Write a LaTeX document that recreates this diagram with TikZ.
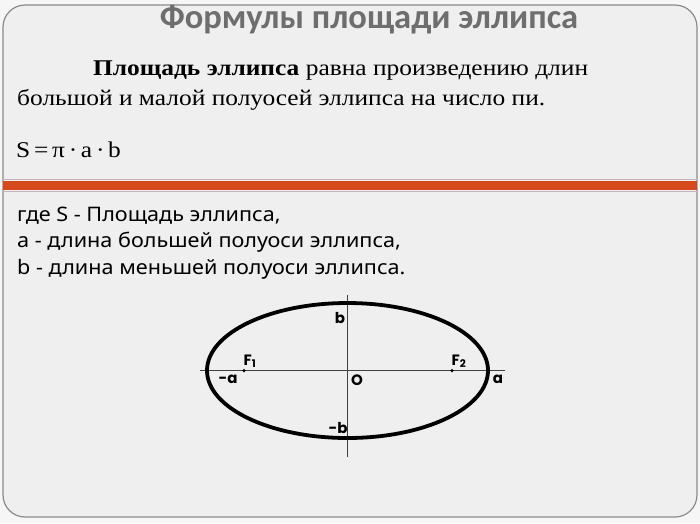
\documentclass[tikz,border=0pt]{standalone}
\usepackage{fontspec}
\setmainfont[FakeStretch=1.13]{Liberation Serif}
\newfontfamily\titlefont{Carlito}
\newfontfamily\notefont[FakeStretch=1.08]{Noto Sans}
\newfontfamily\axisfont{Poppins}
\usepackage{tikz}
\usetikzlibrary{positioning}

\definecolor{pagebg}{HTML}{F6F6F6}
\definecolor{slidebg}{HTML}{EFEFEF}
\definecolor{framegray}{HTML}{8A8A8A}
\definecolor{titlegray}{HTML}{6E6E6E}
\definecolor{bandorange}{HTML}{D5491C}
\definecolor{bandedge}{HTML}{C4B6C0}

\begin{document}
\begin{tikzpicture}[
        % Define styles for consistency
        x=1pt, y=-1pt,
        frame/.style={draw=framegray, line width=1.2pt, rounded corners=22pt, fill=slidebg},
        body/.style={anchor=base west, inner sep=0pt, font=\fontsize{22.5}{27}\selectfont},
        note/.style={anchor=base west, inner sep=0pt, font=\notefont\fontsize{20}{24}\selectfont},
        axis/.style={draw=black!75, line width=0.8pt},
        curve/.style={draw=black, line width=3.8pt},
        dot/.style={circle, fill=black, inner sep=0pt, minimum size=3.5pt},
        lbl/.style={font=\axisfont\bfseries\fontsize{15}{18}\selectfont, inner sep=1pt}
    ]

        \useasboundingbox (0,0) rectangle (700,523);
        \fill[pagebg] (0,0) rectangle (700,523);

        % --- Slide frame ---
        \draw[frame] (3,5) rectangle (697,517);

        % --- Title ---
        \node[font=\titlefont\bfseries\fontsize{34.5}{40}\selectfont, text=titlegray,
              anchor=base, inner sep=0pt] (title) at (369,28) {Формулы площади эллипса};

        % --- Definition ---
        \node[body] (lead) at (93,75) {\textbf{Площадь эллипса} равна произведению длин};
        \node[body] (lead2) at (17,105) {большой и малой полуосей эллипса на число пи.};
        \node[body] (formula) at (16,157) {S\,=\,π\,·\,a\,·\,b};

        % --- Orange band ---
        \fill[bandorange] (3,181) rectangle (697,190);
        \draw[bandedge, line width=1pt] (3,179.5) -- (697,179.5);
        \draw[bandedge, line width=1pt] (3,191.5) -- (697,191.5);

        % --- Notation ---
        \node[note] (whereS) at (17,221) {где S - Площадь эллипса,};
        \node[note] (whereA) at (17,247.5) {a - длина большей полуоси эллипса,};
        \node[note] (whereB) at (17,274) {b - длина меньшей полуоси эллипса.};

        % --- Coordinates ---
        \coordinate (O) at (347.5,370.5);
        \coordinate (axl) at (200,370.5);
        \coordinate (axr) at (505,370.5);
        \coordinate (axt) at (347.5,295);
        \coordinate (axb) at (347.5,457);

        % --- Axes and ellipse ---
        \draw[axis] (axl) -- (axr);
        \draw[axis] (axt) -- (axb);
        \draw[curve] (O) ellipse [x radius=140.5pt, y radius=67.5pt];

        % --- Foci ---
        \node[dot] (f1) at (244,370.5) {};
        \node[dot] (f2) at (452,370.5) {};

        % --- Labels ---
        \node[lbl, above right=0pt and -3pt of f1] (lf1) {F\textsubscript{1}};
        \node[lbl, above right=0pt and -3pt of f2] (lf2) {F\textsubscript{2}};
        \node[lbl] (lma) at (228,379) {-a};
        \node[lbl] (la) at (498,379) {a};
        \node[lbl] (lo) at (357,380) {O};
        \node[lbl] (lb) at (340,318) {b};
        \node[lbl] (lmb) at (338,428) {-b};

    \end{tikzpicture}
\end{document}
